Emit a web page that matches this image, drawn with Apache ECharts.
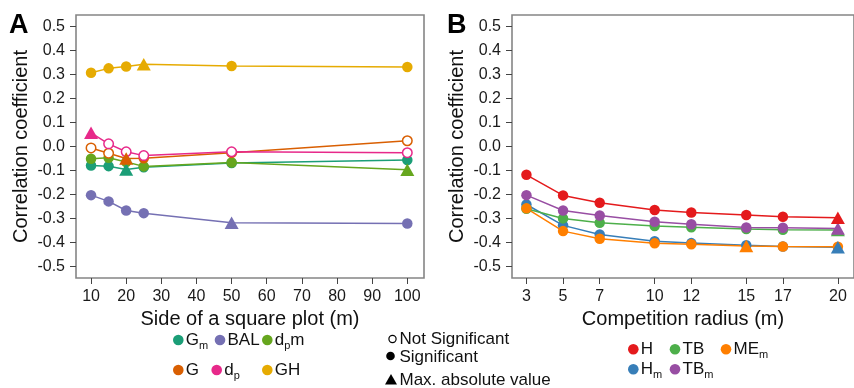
<!DOCTYPE html>
<html><head><meta charset="utf-8">
<script src="https://cdn.jsdelivr.net/npm/echarts@6/dist/echarts.min.js"></script>
<style>html,body{margin:0;padding:0;background:#fff}#c{width:854px;height:388px}</style>
</head><body><div id="c"></div>
<script>
const FONT = '"Liberation Sans", Arial, sans-serif';

// ---------- Panel A data ----------
const xA = [10, 15, 20, 25, 50, 100];
const xTicksA = [10, 20, 30, 40, 50, 60, 70, 80, 90, 100];
const yTicks = [-0.5, -0.4, -0.3, -0.2, -0.1, 0, 0.1, 0.2, 0.3, 0.4, 0.5];
// marker codes: f = significant (filled), o = not significant (open), t = max. absolute value
const Gm   = [-0.079, -0.082, -0.096, -0.087, -0.069, -0.056];
const GmM  = ['f', 'f', 't', 'f', 'f', 'f'];
const dpm  = [-0.051, -0.047, -0.065, -0.083, -0.067, -0.097];
const dpmM = ['f', 'f', 'f', 'f', 'f', 't'];
const BAL  = [-0.203, -0.229, -0.267, -0.278, -0.318, -0.321];
const BALM = ['f', 'f', 'f', 'f', 't', 'f'];
const G    = [-0.006, -0.028, -0.050, -0.049, -0.026, 0.024];
const GM   = ['o', 'o', 't', 'f', 'o', 'o'];
const dp   = [0.057, 0.011, -0.022, -0.038, -0.022, -0.026];
const dpM  = ['t', 'o', 'o', 'o', 'o', 'o'];
const GH   = [0.308, 0.326, 0.334, 0.343, 0.336, 0.332];
const GHM  = ['f', 'f', 'f', 't', 'f', 'f'];

// ---------- Panel B data ----------
const xB = [3, 5, 7, 10, 12, 15, 17, 20];
const xTicksB = [3, 5, 7, 10, 12, 15, 17, 20];
const Hm   = [-0.242, -0.329, -0.367, -0.395, -0.403, -0.412, -0.417, -0.420];
const HmM  = ['f', 'f', 'f', 'f', 'f', 'f', 'f', 't'];
const TB   = [-0.260, -0.300, -0.318, -0.332, -0.337, -0.344, -0.347, -0.348];
const TBM  = ['f', 'f', 'f', 'f', 'f', 'f', 'f', 't'];
const TBm  = [-0.203, -0.267, -0.288, -0.314, -0.324, -0.338, -0.339, -0.342];
const TBmM = ['f', 'f', 'f', 'f', 'f', 'f', 'f', 't'];
const H    = [-0.118, -0.204, -0.235, -0.265, -0.275, -0.286, -0.293, -0.297];
const HM   = ['f', 'f', 'f', 'f', 'f', 'f', 'f', 't'];
const MEm  = [-0.258, -0.353, -0.385, -0.404, -0.408, -0.415, -0.417, -0.418];
const MEmM = ['f', 'f', 'f', 'f', 'f', 't', 'f', 'f'];

const C = {
  Gm: '#1B9E77', G: '#D95F02', BAL: '#7570B3', dp: '#E7298A', dpm: '#66A61E', GH: '#E6AB02',
  H: '#E41A1C', Hm: '#377EB8', TB: '#4DAF4A', TBm: '#984EA3', MEm: '#FF7F00'
};

function buildSeries(name, xs, ys, marks, color, idx) {
  const lineData = xs.map((x, i) => {
    const item = { value: [x, ys[i]] };
    if (marks[i] === 't') item.symbol = 'none';
    else if (marks[i] === 'o') {
      item.symbolSize = 9.5;
      item.itemStyle = { color: '#fff', borderColor: color, borderWidth: 1.5, opacity: 1 };
    }
    return item;
  });
  const tri = [];
  xs.forEach((x, i) => { if (marks[i] === 't') tri.push([x, ys[i]]); });
  return [
    { type: 'line', name: name, xAxisIndex: idx, yAxisIndex: idx, data: lineData,
      symbol: 'circle', symbolSize: 10.5, itemStyle: { color: color, opacity: 1 },
      lineStyle: { color: color, width: 1.5 }, z: 2, silent: true, animation: false,
      emphasis: { disabled: true } },
    { type: 'scatter', name: name + ' max', xAxisIndex: idx, yAxisIndex: idx, data: tri,
      symbol: 'triangle', symbolSize: [14, 12.5], itemStyle: { color: color, opacity: 1 },
      z: 3, silent: true, animation: false, emphasis: { disabled: true } }
  ];
}

const series = [].concat(
  buildSeries('Gm', xA, Gm, GmM, C.Gm, 0),
  buildSeries('dpm', xA, dpm, dpmM, C.dpm, 0),
  buildSeries('BAL', xA, BAL, BALM, C.BAL, 0),
  buildSeries('G', xA, G, GM, C.G, 0),
  buildSeries('dp', xA, dp, dpM, C.dp, 0),
  buildSeries('GH', xA, GH, GHM, C.GH, 0),
  buildSeries('Hm', xB, Hm, HmM, C.Hm, 1),
  buildSeries('TB', xB, TB, TBM, C.TB, 1),
  buildSeries('TBm', xB, TBm, TBmM, C.TBm, 1),
  buildSeries('H', xB, H, HM, C.H, 1),
  buildSeries('MEm', xB, MEm, MEmM, C.MEm, 1)
);

function xAxisCfg(idx, min, max, ticks, name) {
  return {
    gridIndex: idx, type: 'value', min: min, max: max,
    axisLine: { show: false, onZero: false },
    axisTick: { show: true, length: 6, lineStyle: { color: '#444', width: 1 }, customValues: ticks },
    axisLabel: { customValues: ticks, fontSize: 16, color: '#1a1a1a', fontFamily: FONT, margin: 11 },
    splitLine: { show: false },
    name: name, nameLocation: 'middle', nameGap: 31,
    nameTextStyle: { fontSize: 20, fontFamily: FONT, color: '#111' }
  };
}
function yAxisCfg(idx) {
  return {
    gridIndex: idx, type: 'value', min: -0.5486, max: 0.5486,
    axisLine: { show: false, onZero: false },
    axisTick: { show: true, length: 6, lineStyle: { color: '#444', width: 1 }, customValues: yTicks },
    axisLabel: { customValues: yTicks, fontSize: 16, color: '#1a1a1a', fontFamily: FONT, margin: 11,
      formatter: v => Number(v).toFixed(1) },
    splitLine: { show: false },
    name: 'Correlation coefficient', nameLocation: 'middle', nameRotate: 90, nameGap: 45,
    nameTextStyle: { fontSize: 20, fontFamily: FONT, color: '#111' }
  };
}

// ---------- legend graphics ----------
const cv = document.createElement('canvas').getContext('2d');
function tw(t, fs) { cv.font = fs + 'px ' + FONT; return cv.measureText(t).width; }
function label(x, cy, parts) {
  const els = []; let cx = x;
  parts.forEach(p => {
    const sub = p[1]; const fs = sub ? 11 : 17;
    els.push({ type: 'text', x: cx, y: sub ? cy + 5.5 : cy + 0.5, silent: true,
      style: { text: p[0], fontSize: fs, fontFamily: FONT, fill: '#111', align: 'left', verticalAlign: 'middle' } });
    cx += tw(p[0], fs);
  });
  return els;
}
function dot(cx, cy, color, r) {
  return { type: 'circle', silent: true, shape: { cx: cx, cy: cy, r: r || 5.3 }, style: { fill: color } };
}
function item(cx, cy, color, parts) {
  return [dot(cx, cy, color)].concat(label(cx + 7.5, cy, parts));
}

const graphic = [].concat(
  [{ type: 'text', x: 9, y: 25.5, silent: true, style: { text: 'A', fontSize: 27, fontWeight: 'bold', fontFamily: FONT, fill: '#000', verticalAlign: 'middle' } },
   { type: 'text', x: 447, y: 25.5, silent: true, style: { text: 'B', fontSize: 27, fontWeight: 'bold', fontFamily: FONT, fill: '#000', verticalAlign: 'middle' } }],
  item(178.3, 340, C.Gm, [['G', false], ['m', true]]),
  item(220, 340, C.BAL, [['BAL', false]]),
  item(267.3, 340, C.dpm, [['d', false], ['p', true], ['m', false]]),
  item(178.3, 370, C.G, [['G', false]]),
  item(216.7, 370, C.dp, [['d', false], ['p', true]]),
  item(267.3, 370, C.GH, [['GH', false]]),
  [{ type: 'circle', silent: true, shape: { cx: 392.5, cy: 339, r: 3.6 }, style: { fill: '#fff', stroke: '#000', lineWidth: 1.2 } },
   dot(390.5, 356, '#000', 4.3),
   { type: 'polygon', silent: true, shape: { points: [[391, 374], [385, 384.5], [397, 384.5]] }, style: { fill: '#000' } }],
  label(399.5, 339, [['Not Significant', false]]),
  label(399.5, 357, [['Significant', false]]),
  label(399.5, 380, [['Max. absolute value', false]]),
  item(633.3, 349.3, C.H, [['H', false]]),
  item(675, 349.3, C.TB, [['TB', false]]),
  item(726, 349.3, C.MEm, [['ME', false], ['m', true]]),
  item(633.3, 369.3, C.Hm, [['H', false], ['m', true]]),
  item(675, 369.3, C.TBm, [['TB', false], ['m', true]])
);

const chart = echarts.init(document.getElementById('c'), null, { renderer: 'canvas' });
chart.setOption({
  animation: false,
  backgroundColor: '#fff',
  textStyle: { fontFamily: FONT },
  grid: [
    { left: 76, top: 15, width: 348, height: 263, show: true, borderColor: '#858585', borderWidth: 1.6, backgroundColor: 'transparent' },
    { left: 512, top: 15, width: 348, height: 263, show: true, borderColor: '#858585', borderWidth: 1.6, backgroundColor: 'transparent' }
  ],
  xAxis: [
    xAxisCfg(0, 5.72, 104.75, xTicksA, 'Side of a square plot (m)'),
    xAxisCfg(1, 2.2125, 20.88, xTicksB, 'Competition radius (m)')
  ],
  yAxis: [yAxisCfg(0), yAxisCfg(1)],
  series: series,
  graphic: graphic
});
</script>
</body></html>
